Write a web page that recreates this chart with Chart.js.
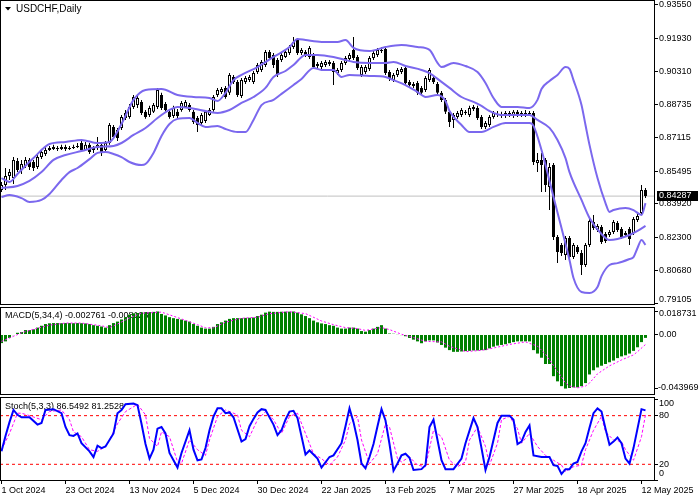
<!DOCTYPE html>
<html>
<head>
<meta charset="utf-8">
<script src="https://cdn.jsdelivr.net/npm/chart.js@4.4.1/dist/chart.umd.min.js"></script>
<style>
  html, body { margin: 0; padding: 0; background: #fff; }
  #wrap { position: relative; width: 700px; height: 500px; }
  canvas { position: absolute; left: 0; }
</style>
</head>
<body>
<div id="wrap">
  <canvas id="cPrice" width="700" height="306" style="top:0"></canvas>
  <canvas id="cMacd" width="700" height="90" style="top:306px"></canvas>
  <canvas id="cStoch" width="700" height="104" style="top:396px"></canvas>
</div>
<script>
// ---- data ----
const tickIdx = [0, 16, 32, 48, 64, 80, 96, 112, 128, 144, 160];
const tickText = ['1 Oct 2024', '23 Oct 2024', '13 Nov 2024', '5 Dec 2024', '30 Dec 2024', '22 Jan 2025',
  '13 Feb 2025', '7 Mar 2025', '27 Mar 2025', '18 Apr 2025', '12 May 2025'];

const priceTicks = [0.93550, 0.91930, 0.90310, 0.88735, 0.87115, 0.85495, 0.83920, 0.82300, 0.80680, 0.79105];
const macdTicks = [0.018731, 0, -0.043969];
const stochTicks = [100, 80, 20, 0];
const stochLevels = [20, 80];

const open = [
  0.8458,0.8483,0.8526,0.8516,0.8599,0.8555,0.8575,0.8604,0.8594,0.8570,
  0.8618,0.8633,0.8652,0.8657,0.8662,0.8657,0.8667,0.8657,0.8662,0.8667,
  0.8686,0.8652,0.8677,0.8652,0.8662,0.8677,0.8652,0.8686,0.8764,0.8749,
  0.8759,0.8807,0.8812,0.8861,0.8870,0.8885,0.8837,0.8822,0.8837,0.8861,
  0.8919,0.8875,0.8837,0.8817,0.8837,0.8846,0.8861,0.8870,0.8837,0.8807,
  0.8783,0.8793,0.8822,0.8846,0.8919,0.8933,0.8953,0.8929,0.9006,0.8982,
  0.8914,0.8982,0.8991,0.8982,0.9030,0.9040,0.9064,0.9127,0.9113,0.9088,
  0.9088,0.9103,0.9122,0.9151,0.9185,0.9122,0.9127,0.9103,0.9113,0.9059,
  0.9054,0.9064,0.9069,0.9074,0.9025,0.9040,0.9074,0.9093,0.9137,0.9103,
  0.9016,0.9030,0.9045,0.9098,0.9113,0.9132,0.9142,0.9030,0.8991,0.9016,
  0.9030,0.9050,0.8982,0.8972,0.8977,0.8953,0.8943,0.8991,0.9001,0.8972,
  0.8929,0.8895,0.8837,0.8798,0.8812,0.8822,0.8837,0.8822,0.8851,0.8856,
  0.8812,0.8764,0.8773,0.8812,0.8822,0.8827,0.8817,0.8832,0.8817,0.8837,
  0.8822,0.8832,0.8827,0.8832,0.8589,0.8604,0.8604,0.8473,0.8579,0.8230,
  0.8192,0.8143,0.8226,0.8133,0.8182,0.8153,0.8095,0.8192,0.8303,0.8264,
  0.8279,0.8245,0.8240,0.8255,0.8298,0.8269,0.8240,0.8269,0.8250,0.8313,
  0.8347,0.8458];
const high = [
  0.8497,0.8565,0.8560,0.8618,0.8613,0.8604,0.8618,0.8613,0.8604,0.8628,
  0.8657,0.8667,0.8672,0.8677,0.8672,0.8677,0.8677,0.8672,0.8677,0.8686,
  0.8696,0.8691,0.8686,0.8672,0.8715,0.8681,0.8696,0.8783,0.8773,0.8759,
  0.8822,0.8846,0.8875,0.8919,0.8914,0.8895,0.8846,0.8866,0.8880,0.8953,
  0.8929,0.8885,0.8846,0.8866,0.8851,0.8890,0.8895,0.8880,0.8846,0.8817,
  0.8832,0.8846,0.8856,0.8919,0.8953,0.8958,0.8962,0.9025,0.9016,0.8991,
  0.9001,0.9011,0.9016,0.9035,0.9074,0.9088,0.9137,0.9137,0.9122,0.9098,
  0.9122,0.9137,0.9161,0.9200,0.9195,0.9147,0.9137,0.9156,0.9122,0.9079,
  0.9083,0.9088,0.9088,0.9083,0.9050,0.9083,0.9108,0.9122,0.9200,0.9113,
  0.9064,0.9064,0.9108,0.9132,0.9147,0.9151,0.9151,0.9040,0.9025,0.9050,
  0.9054,0.9059,0.8991,0.8982,0.8987,0.8962,0.9011,0.9050,0.9011,0.8982,
  0.8938,0.8904,0.8846,0.8832,0.8841,0.8856,0.8846,0.8866,0.8870,0.8866,
  0.8822,0.8793,0.8822,0.8841,0.8841,0.8837,0.8841,0.8841,0.8846,0.8846,
  0.8841,0.8846,0.8841,0.8841,0.8638,0.8638,0.8613,0.8589,0.8589,0.8240,
  0.8201,0.8235,0.8235,0.8201,0.8192,0.8167,0.8201,0.8323,0.8337,0.8293,
  0.8289,0.8255,0.8264,0.8313,0.8308,0.8279,0.8260,0.8279,0.8327,0.8342,
  0.8483,0.8468];
const low = [
  0.8449,0.8458,0.8507,0.8487,0.8545,0.8536,0.8565,0.8555,0.8550,0.8560,
  0.8608,0.8623,0.8647,0.8652,0.8647,0.8652,0.8647,0.8652,0.8657,0.8662,
  0.8642,0.8647,0.8633,0.8638,0.8652,0.8623,0.8642,0.8677,0.8705,0.8696,
  0.8749,0.8798,0.8803,0.8851,0.8856,0.8822,0.8803,0.8812,0.8832,0.8851,
  0.8846,0.8837,0.8803,0.8807,0.8807,0.8837,0.8856,0.8837,0.8778,0.8739,
  0.8769,0.8783,0.8817,0.8837,0.8909,0.8924,0.8900,0.8919,0.8972,0.8909,
  0.8904,0.8972,0.8982,0.8972,0.9021,0.9030,0.9054,0.9088,0.9050,0.9006,
  0.9079,0.9098,0.9113,0.9142,0.9113,0.9113,0.9103,0.9093,0.9045,0.9050,
  0.9045,0.9054,0.9059,0.8967,0.9016,0.9030,0.9064,0.9083,0.9088,0.9040,
  0.9006,0.9021,0.9035,0.9088,0.9103,0.9122,0.9016,0.8987,0.8982,0.9006,
  0.9021,0.8967,0.8958,0.8953,0.8919,0.8919,0.8933,0.8982,0.8972,0.8919,
  0.8885,0.8827,0.8764,0.8759,0.8803,0.8812,0.8822,0.8812,0.8841,0.8798,
  0.8754,0.8754,0.8764,0.8803,0.8812,0.8807,0.8807,0.8812,0.8807,0.8812,
  0.8812,0.8812,0.8817,0.8579,0.8545,0.8449,0.8449,0.8361,0.8216,0.8104,
  0.8138,0.8119,0.8124,0.8124,0.8148,0.8046,0.8085,0.8182,0.8264,0.8255,
  0.8196,0.8201,0.8230,0.8245,0.8255,0.8221,0.8230,0.8192,0.8240,0.8303,
  0.8337,0.8419];
const close = [
  0.8483,0.8526,0.8545,0.8604,0.8555,0.8584,0.8604,0.8570,0.8565,0.8618,
  0.8642,0.8652,0.8662,0.8667,0.8657,0.8667,0.8657,0.8662,0.8667,0.8672,
  0.8652,0.8677,0.8642,0.8662,0.8677,0.8638,0.8686,0.8773,0.8715,0.8710,
  0.8812,0.8832,0.8861,0.8909,0.8904,0.8832,0.8812,0.8856,0.8870,0.8943,
  0.8856,0.8846,0.8812,0.8856,0.8817,0.8880,0.8885,0.8846,0.8788,0.8773,
  0.8822,0.8837,0.8846,0.8909,0.8943,0.8948,0.8909,0.9016,0.8982,0.8919,
  0.8991,0.9001,0.9006,0.9025,0.9064,0.9079,0.9127,0.9098,0.9064,0.9016,
  0.9113,0.9127,0.9151,0.9176,0.9122,0.9137,0.9113,0.9147,0.9054,0.9069,
  0.9074,0.9079,0.9079,0.9030,0.9040,0.9074,0.9098,0.9113,0.9098,0.9050,
  0.9054,0.9054,0.9098,0.9122,0.9137,0.9137,0.9025,0.8996,0.9016,0.9040,
  0.9045,0.8977,0.8967,0.8962,0.8929,0.8929,0.9001,0.9040,0.8982,0.8929,
  0.8895,0.8837,0.8788,0.8822,0.8832,0.8846,0.8832,0.8856,0.8861,0.8807,
  0.8764,0.8783,0.8812,0.8832,0.8827,0.8817,0.8832,0.8822,0.8837,0.8822,
  0.8832,0.8822,0.8832,0.8594,0.8604,0.8579,0.8483,0.8570,0.8230,0.8158,
  0.8153,0.8226,0.8133,0.8192,0.8158,0.8095,0.8192,0.8308,0.8274,0.8284,
  0.8206,0.8211,0.8255,0.8303,0.8264,0.8230,0.8250,0.8221,0.8318,0.8332,
  0.8458,0.84287];

// Bollinger bands, read at the bars listed in each *Idx array
const upIdx = [0,2,4,8,12,16,20,24,27,30,33,36,40,44,48,52,54,56,58,60,64,68,72,74,76,80,84,86,88,92,
  96,100,104,107,109,110,113,116,119,121,123,125,129,132,134,135,137,139,141,142,143,145,146,147,149,151,
  152,153,156,158,160,161];
const upVal = [0.8516,0.8497,0.8536,0.8613,0.8681,0.8691,0.8701,0.8686,0.8691,0.8778,0.8895,0.8943,0.8948,
  0.8919,0.8909,0.8904,0.8890,0.8929,0.8991,0.9016,0.9054,0.9103,0.9151,0.9190,0.9185,0.9176,0.9176,0.9185,
  0.9147,0.9132,0.9151,0.9161,0.9151,0.9137,0.9074,0.9054,0.9074,0.9059,0.9030,0.8977,0.8904,0.8861,0.8861,
  0.8856,0.8895,0.8948,0.8987,0.9016,0.9054,0.9045,0.8991,0.8870,0.8773,0.8677,0.8516,0.8395,0.8352,0.8361,
  0.8371,0.8361,0.8337,0.8395];
const midIdx = [0,4,7,10,13,16,20,24,28,30,33,36,39,42,44,47,52,54,57,60,63,66,68,71,73,76,79,83,86,88,
  92,96,98,101,105,107,110,112,115,118,120,122,125,132,134,137,139,141,142,145,147,150,152,154,157,159,161];
const midVal = [0.8468,0.8478,0.8502,0.8545,0.8604,0.8628,0.8647,0.8667,0.8672,0.8686,0.8725,0.8759,0.8807,
  0.8846,0.8861,0.8856,0.8837,0.8832,0.8846,0.8880,0.8909,0.8953,0.9006,0.9035,0.9064,0.9113,0.9113,0.9103,
  0.9088,0.9079,0.9074,0.9074,0.9079,0.9059,0.9040,0.9025,0.8982,0.8953,0.8909,0.8885,0.8866,0.8841,0.8822,
  0.8822,0.8798,0.8759,0.8701,0.8613,0.8545,0.8410,0.8323,0.8245,0.8216,0.8221,0.8240,0.8260,0.8284];
const lowIdx = [0,2,5,7,10,12,15,17,19,22,24,26,28,30,32,35,36,38,40,42,44,47,49,51,54,56,59,61,63,65,
  68,70,73,75,78,80,83,85,87,92,96,98,101,104,106,109,111,112,115,117,120,123,126,132,133,135,136,138,140,
  142,143,145,147,149,150,152,154,157,158,159,160,161];
const lowVal = [0.8424,0.8434,0.8419,0.8400,0.8410,0.8439,0.8507,0.8545,0.8565,0.8608,0.8638,0.8642,0.8633,
  0.8618,0.8594,0.8579,0.8584,0.8638,0.8720,0.8778,0.8803,0.8807,0.8783,0.8764,0.8769,0.8754,0.8739,0.8739,
  0.8798,0.8870,0.8895,0.8924,0.8967,0.8996,0.9050,0.9040,0.9040,0.9006,0.9016,0.9011,0.9006,0.8991,0.8967,
  0.8933,0.8909,0.8919,0.8890,0.8841,0.8773,0.8739,0.8739,0.8764,0.8783,0.8783,0.8769,0.8652,0.8579,0.8424,
  0.8274,0.8119,0.8032,0.7964,0.7959,0.7988,0.8041,0.8095,0.8104,0.8124,0.8133,0.8177,0.8216,0.8192];

// MACD(5,34,4): histogram per bar, signal at sampled bars
const macdHist = [
  -0.00700,-0.00560,-0.00280,-0.00050,0.00140,0.00200,0.00360,0.00360,0.00420,0.00560,
  0.00710,0.00850,0.00910,0.00930,0.00930,0.00920,0.00930,0.00930,0.00920,0.00930,
  0.00920,0.00900,0.00850,0.00760,0.00710,0.00650,0.00560,0.00760,0.00930,0.01050,
  0.01220,0.01410,0.01610,0.01720,0.01750,0.01780,0.01800,0.01820,0.01840,0.01873,
  0.01670,0.01550,0.01410,0.01330,0.01270,0.01220,0.01130,0.01050,0.00850,0.00710,
  0.00560,0.00480,0.00480,0.00620,0.00850,0.00990,0.01130,0.01270,0.01330,0.01330,
  0.01330,0.01350,0.01360,0.01380,0.01500,0.01610,0.01780,0.01860,0.01840,0.01840,
  0.01850,0.01860,0.01860,0.01870,0.01780,0.01640,0.01500,0.01330,0.01130,0.00990,
  0.00900,0.00850,0.00760,0.00710,0.00560,0.00480,0.00480,0.00560,0.00560,0.00480,
  0.00280,0.00230,0.00360,0.00480,0.00620,0.00760,0.00480,0.00080,0.00060,-0.00030,
  -0.00050,-0.00140,-0.00280,-0.00420,-0.00560,-0.00710,-0.00560,-0.00480,-0.00480,-0.00650,
  -0.00850,-0.01070,-0.01270,-0.01410,-0.01410,-0.01380,-0.01350,-0.01330,-0.01300,-0.01300,
  -0.01270,-0.01270,-0.01130,-0.00990,-0.00900,-0.00850,-0.00790,-0.00710,-0.00620,-0.00560,
  -0.00560,-0.00560,-0.00560,-0.01270,-0.01550,-0.01890,-0.02400,-0.02400,-0.03390,-0.03810,
  -0.04200,-0.04397,-0.04350,-0.04300,-0.04300,-0.04200,-0.03950,-0.03250,-0.02910,-0.02680,
  -0.02540,-0.02400,-0.02260,-0.02120,-0.01920,-0.01780,-0.01690,-0.01550,-0.01330,-0.01040,
  -0.00620,-0.002761];
const sigIdx = [0,3,5,8,12,16,20,25,27,29,32,35,40,43,46,49,51,53,56,60,64,67,72,76,80,83,86,89,91,95,
  97,100,103,106,110,112,116,120,123,127,131,134,136,138,139,140,141,142,144,146,147,149,152,155,158,159,161];
const sigVal = [-0.0056,-0.0015,0.0014,0.0042,0.0076,0.0093,0.0093,0.0071,0.0056,0.0085,
  0.0135,0.0173,0.0182,0.0149,0.0115,0.0080,0.0055,0.0054,0.0100,0.0132,
  0.0140,0.0170,0.0185,0.0170,0.0110,0.0080,0.0056,0.0048,0.0033,0.0056,
  0.0040,0.0002,-0.0025,-0.0056,-0.0060,-0.0096,-0.0139,-0.0129,-0.0110,-0.0081,
  -0.0060,-0.0095,-0.0160,-0.0252,-0.0300,-0.0345,-0.0395,-0.0419,-0.0434,-0.0419,
  -0.0395,-0.0320,-0.0255,-0.0207,-0.0166,-0.0140,-0.008123];

// Stochastic(5,3,3)
const kIdx = [0,1,2,3,4,5,7,9,10,11,13,15,16,17,18,19,20,22,23,24,25,26,28,29,30,31,33,34,35,36,
  37,38,39,40,41,42,44,45,47,48,49,50,51,52,53,54,55,56,57,58,60,61,62,63,64,65,66,68,69,70,
  71,72,73,74,76,77,79,80,82,83,85,86,87,88,89,90,91,92,93,94,95,96,97,98,99,100,101,102,103,105,
  106,107,108,109,110,111,113,115,116,118,119,120,121,122,124,125,127,128,129,130,131,132,133,135,136,137,138,139,140,141,
  142,143,144,145,146,147,148,149,150,151,152,153,154,155,156,157,158,159,160,161];
const kVal = [36,55,72,87,81,78,78,69,71,87,88,83,66,56,55,58,46,36,29,43,40,42,58,83,87,94,95,93,70,45,
  27,38,64,66,58,34,16,34,62,38,25,26,40,62,79,89,89,83,84,78,48,51,67,76,84,88,87,69,56,62,
  75,85,86,77,32,37,27,16,29,31,46,67,89,72,50,21,15,29,45,67,88,74,45,12,21,31,33,28,13,14,
  19,66,75,50,25,14,14,27,46,77,66,40,13,29,71,80,80,75,45,48,60,68,31,29,29,29,19,18,8,14,
  14,21,23,36,46,65,83,89,85,64,44,48,53,46,27,21,40,64,88,86.5492];
const dIdx = [0,2,4,5,7,10,12,15,17,18,20,22,24,26,27,29,31,34,36,37,39,40,42,44,45,47,49,51,52,54,
  56,59,60,62,64,66,68,70,72,74,76,78,80,82,84,86,87,89,90,92,94,96,97,99,100,102,104,106,108,110,
  112,114,116,117,119,121,122,124,125,127,129,130,132,134,136,138,140,141,143,145,146,148,150,151,153,155,156,158,160,161];
const dVal = [38,58,83,83,80,75,85,87,75,60,54,38,36,42,50,70,85,94,81,52,42,60,54,23,21,50,38,31,50,79,
  87,81,62,54,75,85,75,58,79,83,58,33,27,19,29,50,70,79,50,21,33,70,66,27,23,29,19,17,62,54,
  25,17,23,50,66,42,19,46,75,79,64,46,58,42,31,25,19,11,17,19,38,62,79,60,50,48,38,25,54,81.2528];

// ---- chart setup ----
Chart.defaults.font.family = 'Liberation Sans';
Chart.defaults.font.size = 9;
Chart.defaults.color = '#000';

const xMin = -0.375, xMax = 163.375; // 4px per bar, right margin like the terminal
const pts = (idx, vals) => idx.map((x, i) => ({ x: x, y: vals[i] }));
const last = close[close.length - 1];

// frame, panel captions, right-hand labels (kept inside the panel like the terminal does) and price tag
const panelFrame = {
  id: 'panelFrame',
  beforeDatasetsDraw(chart, args, opts) {
    const ctx = chart.ctx;
    ctx.save();
    ctx.fillStyle = '#000';
    ctx.textBaseline = 'middle';
    (opts.texts || []).forEach(t => {
      ctx.font = (t.size || 9) + 'px "Liberation Sans"';
      ctx.fillText(t.text, t.x, t.y);
    });
    if (opts.arrow) {
      ctx.beginPath();
      ctx.moveTo(5, 7); ctx.lineTo(11, 7); ctx.lineTo(8, 10.5); ctx.closePath();
      ctx.fill();
    }
    ctx.restore();
  },
  afterDraw(chart, args, opts) {
    const { left, top, right, bottom } = chart.chartArea;
    const ctx = chart.ctx;
    const ys = chart.scales.y;
    ctx.save();
    ctx.strokeStyle = '#000';
    ctx.lineWidth = 1;
    ctx.strokeRect(left + 0.5, top + 0.5, right - left - 1, bottom - top - 1);
    ctx.fillStyle = '#000';
    ctx.font = '9px "Liberation Sans"';
    ctx.textBaseline = 'middle';
    const m = opts.labelMargin || 5;
    ys.ticks.forEach(t => {
      let y = ys.getPixelForValue(t.value);
      y = Math.min(Math.max(y, top + m), bottom - m);
      ctx.fillText(opts.fmt(t.value), right + (t.value < 0 ? 3 : 4), y);
    });
    if (opts.tag != null) {
      const y = Math.round(ys.getPixelForValue(opts.tag));
      ctx.fillStyle = '#000';
      ctx.fillRect(right + 2, y - 5, 41, 10);
      ctx.fillStyle = '#fff';
      ctx.fillText(opts.tag.toFixed(5), right + 4, y);
    }
    ctx.restore();
  }
};

function xAxis(show) {
  return {
    type: 'linear', min: xMin, max: xMax, offset: false, display: show,
    afterFit: s => {
      s.height = show ? 19 : 0;
      s.paddingLeft = 0; s.paddingRight = 0;
    },
    afterBuildTicks: s => { s.ticks = tickIdx.map(v => ({ value: v })); },
    grid: { drawOnChartArea: false, drawTicks: true, tickLength: 3, color: '#000', offset: false },
    border: { display: false },
    ticks: { autoSkip: false, maxRotation: 0, align: 'start', padding: 1,
      callback: v => tickText[tickIdx.indexOf(v)] || '' }
  };
}

function yAxis(min, max, ticks) {
  return {
    position: 'right', min: min, max: max,
    afterFit: s => { s.width = 45; s.paddingTop = 0; s.paddingBottom = 0; },
    afterBuildTicks: s => { s.ticks = ticks.map(v => ({ value: v })); },
    grid: { drawOnChartArea: false, drawTicks: true, tickLength: 3, color: '#000' },
    border: { display: false },
    ticks: { display: false, autoSkip: false }
  };
}

const common = {
  responsive: false, animation: false, devicePixelRatio: 1, events: [],
  plugins: { legend: { display: false }, tooltip: { enabled: false } }
};
const lineStyle = { type: 'line', pointRadius: 0, fill: false };

// price panel
const wicks = low.map((l, i) => ({ x: i, y: [l, high[i]] }));
const bodies = open.map((o, i) => ({ x: i, y: [o, close[i]] }));
const bodyColors = open.map((o, i) => close[i] >= o ? '#fff' : '#000');
const bandStyle = Object.assign({}, lineStyle, { borderColor: '#7B68EE', borderWidth: 2, cubicInterpolationMode: 'monotone', order: 1 });

new Chart(document.getElementById('cPrice'), {
  type: 'bar',
  data: {
    datasets: [
      Object.assign({}, lineStyle, { data: [{ x: xMin, y: last }, { x: xMax, y: last }], borderColor: '#C0C0C0', borderWidth: 1, order: 5 }),
      { data: wicks, backgroundColor: '#000', barThickness: 1, grouped: false, inflateAmount: 0, order: 4 },
      { data: bodies, backgroundColor: bodyColors, borderColor: '#000', borderWidth: 1, borderSkipped: false,
        barThickness: 3, grouped: false, inflateAmount: 0, order: 3 },
      Object.assign({}, bandStyle, { data: pts(upIdx, upVal) }),
      Object.assign({}, bandStyle, { data: pts(midIdx, midVal) }),
      Object.assign({}, bandStyle, { data: pts(lowIdx, lowVal) })
    ]
  },
  options: Object.assign({}, common, {
    layout: { padding: { top: 0, bottom: 1, left: 0, right: 0 } },
    scales: {
      x: xAxis(false),
      y: yAxis(0.7901, 0.9379, priceTicks)
    },
    plugins: Object.assign({}, common.plugins, {
      panelFrame: { texts: [{ text: 'USDCHF,Daily', x: 16, y: 9, size: 10 }], arrow: true, tag: last,
        labelMargin: 5, fmt: v => v.toFixed(5) }
    })
  }),
  plugins: [panelFrame]
});

// MACD panel
new Chart(document.getElementById('cMacd'), {
  type: 'bar',
  data: {
    datasets: [
      { data: macdHist.map((v, i) => ({ x: i, y: v })), backgroundColor: '#008000', barThickness: 3,
        grouped: false, inflateAmount: 0, order: 2 },
      Object.assign({}, lineStyle, { data: pts(sigIdx, sigVal), borderColor: '#FF00FF', borderWidth: 1,
        borderDash: [2, 2], order: 1 })
    ]
  },
  options: Object.assign({}, common, {
    layout: { padding: { top: 1, bottom: 1, left: 0, right: 0 } },
    scales: {
      x: xAxis(false),
      y: yAxis(-0.0492, 0.02236, macdTicks)
    },
    plugins: Object.assign({}, common.plugins, {
      panelFrame: { texts: [{ text: 'MACD(5,34,4) ' + macdHist[macdHist.length - 1].toFixed(6) + ' ' +
        sigVal[sigVal.length - 1].toFixed(6), x: 5, y: 10 }],
        labelMargin: 7, fmt: v => v === 0 ? '0.00' : v.toFixed(6) }
    })
  }),
  plugins: [panelFrame]
});

// Stochastic panel
new Chart(document.getElementById('cStoch'), {
  type: 'line',
  data: {
    datasets: [
      Object.assign({}, lineStyle, { data: [{ x: xMin, y: stochLevels[0] }, { x: xMax, y: stochLevels[0] }],
        borderColor: '#FF0000', borderWidth: 1, borderDash: [3, 3], order: 3 }),
      Object.assign({}, lineStyle, { data: [{ x: xMin, y: stochLevels[1] }, { x: xMax, y: stochLevels[1] }],
        borderColor: '#FF0000', borderWidth: 1, borderDash: [3, 3], order: 3 }),
      Object.assign({}, lineStyle, { data: pts(dIdx, dVal), borderColor: '#FF00FF', borderWidth: 1,
        borderDash: [3, 2], order: 2 }),
      Object.assign({}, lineStyle, { data: pts(kIdx, kVal), borderColor: '#0000FF', borderWidth: 2, order: 1 })
    ]
  },
  options: Object.assign({}, common, {
    layout: { padding: { top: 1, bottom: 0, left: 0, right: 0 } },
    scales: {
      x: xAxis(true),
      y: yAxis(-0.6, 103, stochTicks)
    },
    plugins: Object.assign({}, common.plugins, {
      panelFrame: { texts: [{ text: 'Stoch(5,3,3) ' + kVal[kVal.length - 1].toFixed(4) + ' ' +
        dVal[dVal.length - 1].toFixed(4), x: 5, y: 11 }],
        labelMargin: 7, fmt: v => String(v) }
    })
  }),
  plugins: [panelFrame]
});
</script>
</body>
</html>
